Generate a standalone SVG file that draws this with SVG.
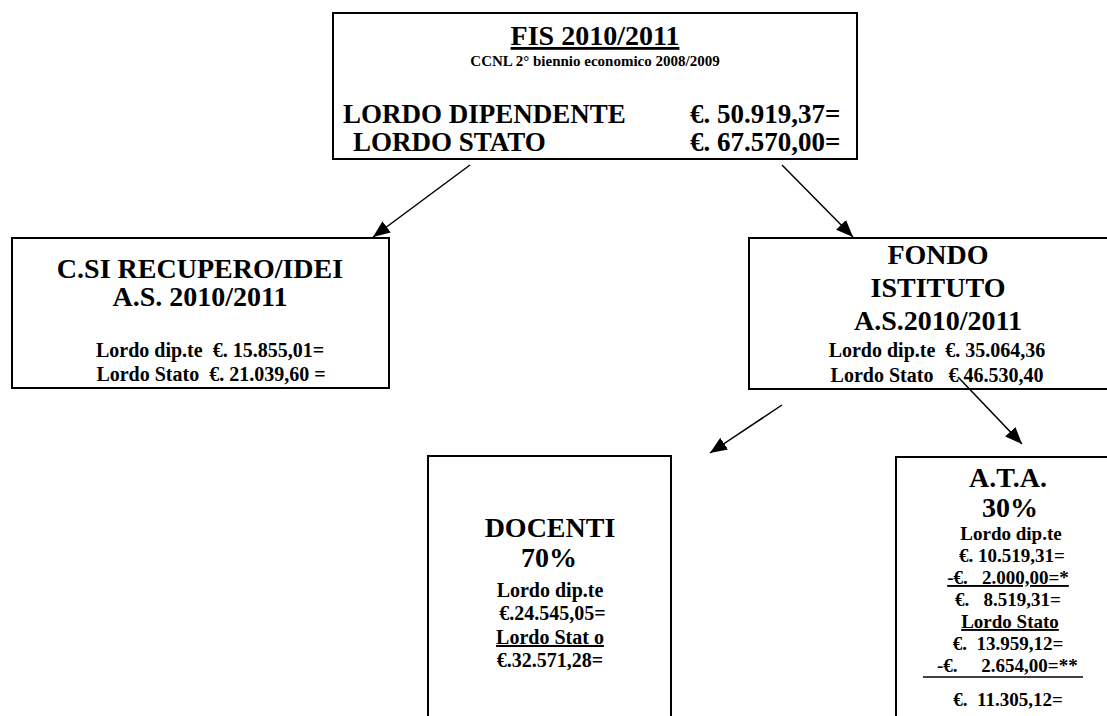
<svg xmlns="http://www.w3.org/2000/svg" width="1107" height="716" viewBox="0 0 1107 716">
<style>
text{font-family:"Liberation Serif","Times New Roman",serif;font-weight:bold;fill:#000;white-space:pre}
.box{fill:#fff;stroke:#000;stroke-width:2}
.big{font-size:28px}
.lg{font-size:27px}
.sm{font-size:20px}
.xs{font-size:19px}
.c{text-anchor:middle}
.u{text-decoration:underline}
.conn line{stroke:#000;stroke-width:1.5}
</style>
<defs>
<marker id="ah" markerUnits="userSpaceOnUse" markerWidth="18" markerHeight="14" refX="17" refY="7" orient="auto">
<path d="M0,0 L17,7 L0,14 z" fill="#000"/>
</marker>
</defs>
<rect width="1107" height="716" fill="#fff"/>

<g id="fis">
<rect class="box" x="333" y="13" width="524" height="146"/>
<text class="big c u" x="595" y="45">FIS 2010/2011</text>
<text class="c" x="595" y="66" style="font-size:15px">CCNL 2° biennio economico 2008/2009</text>
<text class="lg" x="343" y="123">LORDO DIPENDENTE</text>
<text class="lg" x="690" y="123">€. 50.919,37=</text>
<text class="lg" x="353" y="151">LORDO STATO</text>
<text class="lg" x="690" y="151">€. 67.570,00=</text>
</g>

<g id="recupero">
<rect class="box" x="12" y="238" width="377" height="150"/>
<text class="big c" x="200" y="278">C.SI RECUPERO/IDEI</text>
<text class="big c" x="200" y="306">A.S. 2010/2011</text>
<text class="sm c" x="210" y="357">Lordo dip.te  €. 15.855,01=</text>
<text class="sm c" x="211" y="381">Lordo Stato  €. 21.039,60 =</text>
</g>

<g id="fondo">
<rect class="box" x="749" y="238" width="380" height="151"/>
<text class="big c" x="938" y="264">FONDO</text>
<text class="big c" x="938" y="297">ISTITUTO</text>
<text class="big c" x="938" y="330">A.S.2010/2011</text>
<text class="sm c" x="937" y="357">Lordo dip.te  €. 35.064,36</text>
<text class="sm c" x="937" y="382">Lordo Stato   € 46.530,40</text>
</g>

<g id="docenti">
<rect class="box" x="428" y="456" width="243" height="280"/>
<text class="big c" x="550" y="537">DOCENTI</text>
<text class="big c" x="549" y="567">70%</text>
<text class="sm c" x="550" y="597">Lordo dip.te</text>
<text class="sm c" x="550" y="620"> €.24.545,05=</text>
<text class="sm c u" x="550" y="644">Lordo Stat o</text>
<text class="sm c" x="550" y="667">€.32.571,28=</text>
</g>

<g id="ata">
<rect class="box" x="896" y="457" width="240" height="280"/>
<text class="big c" x="1008" y="487">A.T.A.</text>
<text class="big c" x="1010" y="517">30%</text>
<text class="xs c" x="1011" y="540">Lordo dip.te</text>
<text class="xs c" x="1012" y="562">€. 10.519,31=</text>
<text class="xs c u" x="1008" y="584">-€.   2.000,00=*</text>
<text class="xs c" x="1008" y="606">€.   8.519,31=</text>
<text class="xs c u" x="1010" y="628">Lordo Stato</text>
<text class="xs c" x="1008" y="650">€.  13.959,12=</text>
<text class="xs c" x="1005" y="672"> -€.     2.654,00=**</text>
<line x1="923" y1="677" x2="1083" y2="677" stroke="#000" stroke-width="1.5"/>
<text class="xs c" x="1008" y="706">€.  11.305,12=</text>
</g>

<g id="connectors" class="conn">
<line x1="470" y1="165" x2="373" y2="237" marker-end="url(#ah)"/>
<line x1="782" y1="165" x2="853" y2="237" marker-end="url(#ah)"/>
<line x1="782" y1="405" x2="710" y2="453" marker-end="url(#ah)"/>
<line x1="958" y1="377" x2="1022" y2="444" marker-end="url(#ah)"/>
</g>
</svg>
